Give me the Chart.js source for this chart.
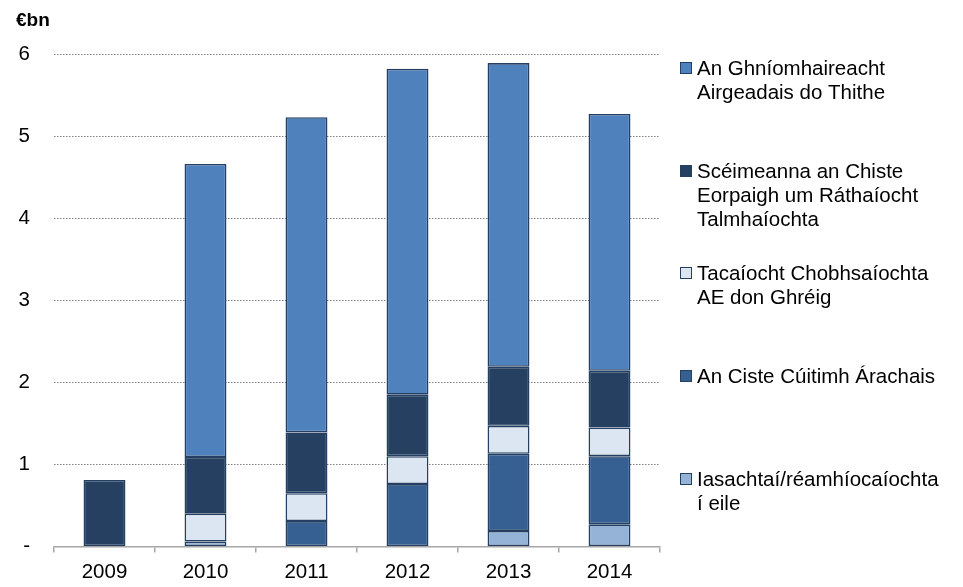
<!DOCTYPE html>
<html>
<head>
<meta charset="utf-8">
<script src="https://cdn.jsdelivr.net/npm/chart.js@4"></script>
<style>
  html, body { margin: 0; padding: 0; background: #ffffff; }
  #wrap { width: 963px; height: 587px; position: relative; }
</style>
</head>
<body>
<div id="wrap"><canvas id="c" width="963" height="587"></canvas></div>
<script>
// ---- data ----
const categories = ['2009', '2010', '2011', '2012', '2013', '2014'];
const yTickLabels = ['-', '1', '2', '3', '4', '5', '6'];
const unitLabel = '€bn';

const seriesNames = [
  'Iasachtaí/réamhíocaíochta í eile',
  'An Ciste Cúitimh Árachais',
  'Tacaíocht Chobhsaíochta AE don Ghréig',
  'Scéimeanna an Chiste Eorpaigh um Ráthaíocht Talmhaíochta',
  'An Ghníomhaireacht Airgeadais do Thithe'
];
const legendLines = [
  ['Iasachtaí/réamhíocaíochta', 'í eile'],
  ['An Ciste Cúitimh Árachais'],
  ['Tacaíocht Chobhsaíochta', 'AE don Ghréig'],
  ['Scéimeanna an Chiste', 'Eorpaigh um Ráthaíocht', 'Talmhaíochta'],
  ['An Ghníomhaireacht', 'Airgeadais do Thithe']
];
const iasachtai    = [null, 0.06, null, null, 0.19, 0.27];
const cisteCuitimh = [null, null, 0.31, 0.76, 0.94, 0.83];
const tacaiocht    = [null, 0.34, 0.34, 0.34, 0.34, 0.35];
const sceimeanna   = [0.81, 0.69, 0.74, 0.75, 0.72, 0.69];
const ghniomh      = [null, 3.57, 3.84, 3.97, 3.70, 3.13];

// ---- styles ----
const FONT = "'Liberation Sans', Arial, sans-serif";
const colors = ['#95B3D7', '#376092', '#DCE6F2', '#254061', '#4F81BD'];
const edge = '#243F62';
const seriesData = [iasachtai, cisteCuitimh, tacaiocht, sceimeanna, ghniomh];

const datasets = seriesNames.map((name, i) => ({
  label: name,
  data: seriesData[i],
  backgroundColor: colors[i],
  borderColor: edge,
  borderWidth: 1.6,
  borderSkipped: false,
  barPercentage: 0.415,
  categoryPercentage: 1.0
}));

// legend layout (top to bottom: reverse of stacking order)
const legendOrder = [4, 3, 2, 1, 0];
const legendFirstY = [68, 171, 273, 376, 479];

const extras = {
  id: 'extras',
  afterDraw(chart) {
    const ctx = chart.ctx;
    ctx.save();
    ctx.fillStyle = '#000';
    ctx.font = 'bold 19px ' + FONT;
    ctx.textBaseline = 'middle';
    ctx.textAlign = 'left';
    ctx.fillText(unitLabel, 16, 21);

    ctx.font = '20.5px ' + FONT;
    legendOrder.forEach((si, k) => {
      const y0 = legendFirstY[k];
      ctx.fillStyle = colors[si];
      ctx.fillRect(680, y0 - 6, 12, 12);
      ctx.strokeStyle = edge;
      ctx.lineWidth = 1;
      ctx.strokeRect(680.5, y0 - 5.5, 11, 11);
      ctx.fillStyle = '#000';
      legendLines[si].forEach((ln, j) => {
        ctx.fillText(ln, 697, y0 + 1 + j * 24);
      });
    });
    ctx.restore();
  }
};

new Chart(document.getElementById('c'), {
  type: 'bar',
  data: { labels: categories, datasets },
  options: {
    responsive: false,
    animation: false,
    devicePixelRatio: 1,
    layout: { padding: { top: 54, right: 303, left: 0, bottom: 0 } },
    plugins: { legend: { display: false }, tooltip: { enabled: false } },
    scales: {
      x: {
        stacked: true,
        afterFit: (s) => { s.height = 40.5; },
        grid: { display: true, drawOnChartArea: false, drawTicks: true, tickLength: 6, color: '#A6A6A6', lineWidth: 1.5 },
        border: { display: true, color: '#A6A6A6', width: 1.5 },
        ticks: { color: '#000', font: { family: FONT, size: 20.5 }, padding: 8, maxRotation: 0 }
      },
      y: {
        stacked: true,
        min: 0,
        max: 6,
        afterFit: (s) => { s.width = 54; },
        grid: {
          drawTicks: false,
          color: (c) => c.tick && c.tick.value === 0 ? 'rgba(0,0,0,0)' : '#7F7F7F',
          lineWidth: 1
        },
        border: { display: false, dash: [1.5, 1.5] },
        ticks: {
          stepSize: 1,
          color: '#000',
          font: { family: FONT, size: 20.5 },
          padding: 24,
          callback: (v, i) => yTickLabels[i]
        }
      }
    }
  },
  plugins: [extras]
});
</script>
</body>
</html>
